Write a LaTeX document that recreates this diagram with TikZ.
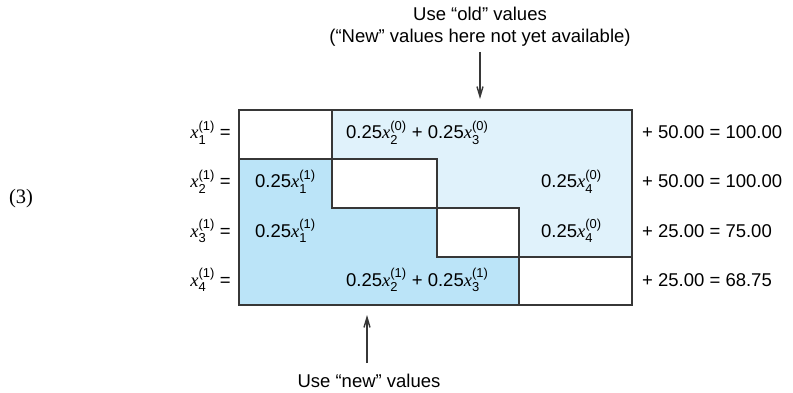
\documentclass[tikz,border=0pt]{standalone}
\usepackage{amsmath}
\usepackage{fontspec}
\setmainfont{Liberation Sans}
\newfontfamily\eqnofont{Liberation Serif}
\usepackage{xcolor}
\usepackage{tikz}
\usetikzlibrary{arrows.meta,positioning}
\definecolor{oldfill}{RGB}{224,242,251}
\definecolor{newfill}{RGB}{187,228,248}
\definecolor{gridline}{RGB}{55,55,55}
\newcommand{\xit}[2]{$\text{\eqnofont\itshape x}^{\text{(#2)}}_{\text{#1}}$}

\begin{document}
\begin{tikzpicture}[x=1pt, y=-1pt, line join=miter, >={Straight Barb[length=10pt,width=6pt]},
    lbl/.style={inner sep=0pt, font=\fontsize{18.5}{22}\selectfont},
    grid/.style={line width=1.3pt, draw=gridline}]
    \useasboundingbox (0,0) rectangle (793,393);

    % "old" part above the diagonal, "new" part below it
    \fill[oldfill] (332,110)--(632,110)--(632,257)--(519,257)--(519,208)--(437,208)--(437,159)--(332,159)--cycle;
    \fill[newfill] (239,159)--(332,159)--(332,208)--(437,208)--(437,257)--(519,257)--(519,305)--(239,305)--cycle;

    % outline and the empty diagonal cells
    \draw[grid] (239,110) rectangle (632,305);
    \foreach \xa/\ya/\xb/\yb in {239/110/332/159, 332/159/437/208, 437/208/519/257, 519/257/632/305}
        {\draw[grid] (\xa,\ya) rectangle (\xb,\yb);}

    % left-hand sides
    \node[lbl, anchor=base east] (lhsA) at (231,139) {\xit{1}{1} =};
    \node[lbl, anchor=base east] (lhsB) at (231,188) {\xit{2}{1} =};
    \node[lbl, anchor=base east] (lhsC) at (231,237) {\xit{3}{1} =};
    \node[lbl, anchor=base east] (lhsD) at (231,286) {\xit{4}{1} =};

    % cell entries
    \node[lbl, anchor=base west] (oldA) at (346,139) {0.25\xit{2}{0} + 0.25\xit{3}{0}};
    \node[lbl, anchor=base west] (newB) at (255,188) {0.25\xit{1}{1}};
    \node[lbl, anchor=base west] (oldB) at (541,188) {0.25\xit{4}{0}};
    \node[lbl, anchor=base west] (newC) at (255,237) {0.25\xit{1}{1}};
    \node[lbl, anchor=base west] (oldC) at (541,237) {0.25\xit{4}{0}};
    \node[lbl, anchor=base west] (newD) at (346,286) {0.25\xit{2}{1} + 0.25\xit{3}{1}};

    % right-hand sides
    \node[lbl, anchor=base west] (rhsA) at (642,139) {+ 50.00 = 100.00};
    \node[lbl, anchor=base west] (rhsB) at (642,188) {+ 50.00 = 100.00};
    \node[lbl, anchor=base west] (rhsC) at (642,237) {+ 25.00 = 75.00};
    \node[lbl, anchor=base west] (rhsD) at (642,286) {+ 25.00 = 68.75};

    \node[anchor=base, inner sep=0pt, font=\eqnofont\fontsize{20.5}{24}\selectfont] (eqno) at (21,204) {(3)};

    % notes with their arrows
    \node[lbl, anchor=base] (oldnote) at (480,21) {Use “old” values};
    \node[lbl, anchor=base] (oldnoteb) at (480,43) {(“New” values here not yet available)};
    \node[lbl, anchor=base] (newnote) at (369,387) {Use “new” values};
    \coordinate (oldtail) at (480,52);
    \coordinate (oldhead) at (480,99);
    \coordinate (newtail) at (367,363);
    \coordinate (newhead) at (367,315);
    \draw[->, line width=1.4pt, gridline] (oldtail) -- (oldhead);
    \draw[->, line width=1.4pt, gridline] (newtail) -- (newhead);
\end{tikzpicture}
\end{document}
